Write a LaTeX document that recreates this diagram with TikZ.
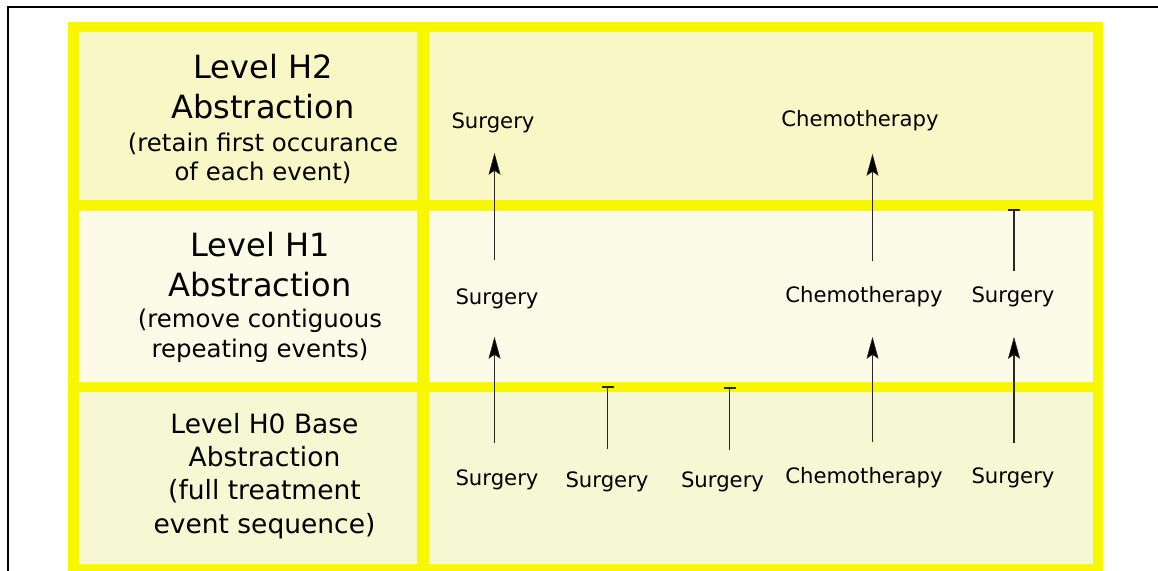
\documentclass[tikz,border=0pt]{standalone}
\usepackage{fontspec}
\setmainfont{DejaVu Sans}
\usetikzlibrary{arrows.meta}
\definecolor{hiyellow}{RGB}{247,247,0}
\definecolor{rowtwo}{RGB}{249,247,198}
\definecolor{rowone}{RGB}{251,251,232}
\definecolor{rowzero}{RGB}{246,247,211}
\definecolor{linkgray}{RGB}{40,40,30}
\begin{document}
\begin{tikzpicture}[x=1bp,y=-1bp,
  event/.style={inner sep=0pt, anchor=base, font=\fontsize{21.2bp}{25bp}\selectfont},
  title/.style={inner sep=0pt, anchor=base, align=center, font=\fontsize{32bp}{40.5bp}\selectfont},
  note/.style={inner sep=0pt, anchor=base, align=center, font=\fontsize{24.4bp}{29bp}\selectfont},
  basenote/.style={inner sep=0pt, anchor=base, align=center, font=\fontsize{26.5bp}{33.3bp}\selectfont},
  promote/.style={draw=linkgray, line width=1.1bp, -{Stealth[length=22bp,width=12bp,inset=4bp,fill=black,line width=0.6bp]}},
  dropped/.style={draw=linkgray, line width=1.1bp, -{Bar[width=12bp,line width=2bp]}},
]
\useasboundingbox (0,0) rectangle (1158,571);
% outer frame
\draw[line width=1.5bp] (8,590) -- (8,7) -- (1180,7);
% yellow grid and cells
\fill[hiyellow] (68,22) rectangle (1103,590);
\fill[rowtwo]  (79,32)  rectangle (417,200)  (429,32)  rectangle (1093,200);
\fill[rowone]  (79,211) rectangle (417,382)  (429,211) rectangle (1093,382);
\fill[rowzero] (79,392) rectangle (417,564)  (429,392) rectangle (1093,564);

% level labels (anchored at the baseline of their last line)
\node[title] (h2title) at (263,119) {Level H2\\Abstraction};
\node[note]  (h2note)  at (263,181) {(retain first occurance\\of each event)};
\node[title] (h1title) at (260,297) {Level H1\\Abstraction};
\node[note]  (h1note)  at (260,357) {(remove contiguous\\repeating events)};
\node[basenote] (h0title) at (264.5,533) {Level H0 Base\\Abstraction\\(full treatment\\event sequence)};

% events
\node[event] (h2s)  at (493,129) {Surgery};
\node[event] (h2c)  at (860,127) {Chemotherapy};
\node[event] (h1s)  at (497,305) {Surgery};
\node[event] (h1c)  at (864,303) {Chemotherapy};
\node[event] (h1s3) at (1013,303) {Surgery};
\node[event] (h0s1) at (497,485) {Surgery};
\node[event] (h0s2) at (607,487) {Surgery};
\node[event] (h0s3) at (722.5,487) {Surgery};
\node[event] (h0c)  at (864,483) {Chemotherapy};
\node[event] (h0s5) at (1013,483) {Surgery};

% connector columns and dead ends
\coordinate (colA) at (494.5,0);
\coordinate (colB) at (607.5,0);
\coordinate (colC) at (729.5,0);
\coordinate (colD) at (872.5,0);
\coordinate (colE) at (1014,0);
\coordinate (endB) at (607.5,386);
\coordinate (endC) at (729.5,387);
\coordinate (endE) at (1014,209);

% promotions
\draw[promote, shorten <=26.4bp, shorten >=27.2bp] (h0s1.north -| colA) -- (h1s.south -| colA);
\draw[promote, shorten <=29.4bp, shorten >=19.2bp] (h1s.north -| colA) -- (h2s.south -| colA);
\draw[promote, shorten <=24.4bp, shorten >=29.2bp] (h0c.north -| colD) -- (h1c.south -| colD);
\draw[promote, shorten <=25.4bp, shorten >=22.2bp] (h1c.north -| colD) -- (h2c.south -| colD);
\draw[promote, shorten <=24.4bp, shorten >=29.2bp] (h0s5.north -| colE) -- (h1s3.south -| colE);
% removed events
\draw[dropped, shorten <=22.4bp] (h0s2.north -| colB) -- (endB);
\draw[dropped, shorten <=21.4bp] (h0s3.north -| colC) -- (endC);
\draw[dropped, shorten <=16.4bp] (h1s3.north -| colE) -- (endE);
\end{tikzpicture}
\end{document}
